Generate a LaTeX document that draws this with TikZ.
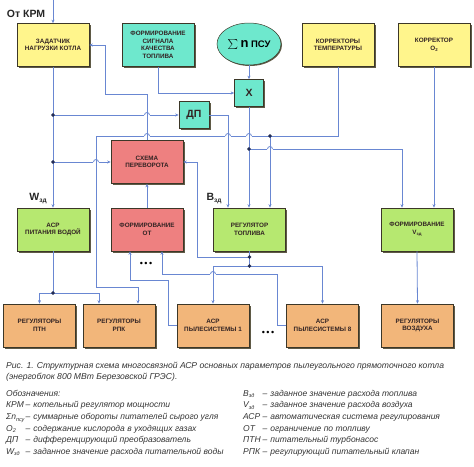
\documentclass[tikz,border=0pt]{standalone}
\usepackage{fontspec}
\setmainfont{Liberation Sans}
\usetikzlibrary{arrows.meta,shadows,shapes.geometric}

\definecolor{wirec}{RGB}{105,135,210}
\definecolor{edgec}{RGB}{60,55,40}
\definecolor{shadc}{RGB}{95,90,70}
\definecolor{dotc}{RGB}{35,45,85}
\definecolor{textc}{RGB}{50,35,35}
\definecolor{yelc}{RGB}{255,245,140}
\definecolor{cyac}{RGB}{110,232,205}
\definecolor{pinc}{RGB}{238,128,128}
\definecolor{grnc}{RGB}{182,232,112}
\definecolor{orac}{RGB}{242,182,122}

\tikzset{
  blk/.style={draw=edgec, line width=0.5pt, minimum width=72pt, minimum height=43pt,
    align=center, inner sep=1pt, text=textc,
    font=\fontsize{6.3}{7.6}\selectfont\bfseries,
    drop shadow={shadow xshift=1.6pt, shadow yshift=-1.6pt, fill=shadc, opacity=1}},
  yel/.style={blk, fill=yelc},
  cya/.style={blk, fill=cyac},
  pin/.style={blk, fill=pinc},
  grn/.style={blk, fill=grnc},
  ora/.style={blk, fill=orac},
  wire/.style={draw=wirec, line width=0.8pt},
  arr/.style={wire, -{Stealth[length=3.6pt, width=3pt]}},
  lab/.style={font=\fontsize{10.5}{10.5}\selectfont\bfseries, text=black!85, inner sep=0pt},
  leg/.style={anchor=north west, inner sep=0pt, align=left, text=black!80},
}

\newcommand\hop[2]{%
  \fill[white] (#1-2.7,#2-0.9) rectangle (#1+2.7,#2+0.9);
  \draw[wire] (#1,#2-2.5) -- (#1,#2+2.5);
  \draw[wire] (#1-2.5,#2) arc[start angle=180, end angle=0, radius=2.5pt];
}

\begin{document}
\begin{tikzpicture}[x=1pt, y=-1pt]
\useasboundingbox (0,0) rectangle (474,466);

\def\ra{45}
\def\rb{229.5}
\def\rc{325.5}

\node[yel] (zad) at (53, \ra) {ЗАДАТЧИК\\НАГРУЗКИ КОТЛА};
\node[cya] (sig) at (158, \ra) {ФОРМИРОВАНИЕ\\СИГНАЛА\\КАЧЕСТВА\\ТОПЛИВА};
\node[ellipse, draw=edgec, line width=0.5pt, fill=cyac, minimum width=64pt, minimum height=42pt,
  inner sep=0pt, drop shadow={shadow xshift=1pt, shadow yshift=-1pt, fill=shadc, opacity=1}]
  (psu) at (249, 44) {\fontsize{15}{15}\selectfont$\sum$\,{\bfseries\fontsize{13}{13}\selectfont n}\,{\bfseries\fontsize{9.5}{9.5}\selectfont ПСУ}};
\node[yel] (temp) at (338, \ra) {КОРРЕКТОРЫ\\ТЕМПЕРАТУРЫ};
\node[yel] (o2) at (434, \ra) {КОРРЕКТОР\\O\raisebox{-1pt}{\fontsize{4.3}{4.3}\selectfont 2}};

\node[cya, minimum width=29pt, minimum height=27pt, font=\fontsize{10.5}{10.5}\selectfont\bfseries] (mul) at (249, 93) {X};
\node[cya, minimum width=30pt, minimum height=27pt, font=\fontsize{10.5}{10.5}\selectfont\bfseries] (dp) at (194, 115) {ДП};
\node[pin] (flip) at (147, 162) {СХЕМА\\ПЕРЕВОРОТА};

\node[grn] (water) at (53, \rb) {АСР\\ПИТАНИЯ ВОДОЙ};
\node[pin] (ot) at (147, \rb) {ФОРМИРОВАНИЕ\\ОТ};
\node[grn] (fuel) at (249.5, \rb) {РЕГУЛЯТОР\\ТОПЛИВА};
\node[grn] (vair) at (417, \rb) {ФОРМИРОВАНИЕ\\V\raisebox{-1pt}{\fontsize{4.3}{4.3}\selectfont зд}};

\node[ora] (ptn) at (39.5, \rc) {РЕГУЛЯТОРЫ\\ПТН};
\node[ora] (rpk) at (119, \rc) {РЕГУЛЯТОРЫ\\РПК};
\node[ora] (mill1) at (213, \rc) {АСР\\ПЫЛЕСИСТЕМЫ 1};
\node[ora] (mill8) at (322.5, \rc) {АСР\\ПЫЛЕСИСТЕМЫ 8};
\node[ora] (air) at (417.5, \rc) {РЕГУЛЯТОРЫ\\ВОЗДУХА};

\node[lab] (krm) at (26, 14) {От КРМ};
\node[lab] (wzd) at (38, 199) {W\raisebox{-2pt}{\fontsize{6.5}{6.5}\selectfont зд}};
\node[lab] (bzd) at (214, 199) {B\raisebox{-2pt}{\fontsize{6.5}{6.5}\selectfont зд}};
\node[font=\fontsize{9}{9}\selectfont] (etca) at (146, 264) {•\,•\,•};
\node[font=\fontsize{9}{9}\selectfont] (etcb) at (268, 333) {•\,•\,•};

\coordinate (top) at (53, 0);
\coordinate (ja) at (53, 115);
\coordinate (jb) at (53, 162);
\coordinate (fb) at (105, 94);
\coordinate (tk) at (96, 136);
\coordinate (tj) at (270, 136);
\coordinate (mj) at (249, 149);
\coordinate (rk) at (138, 287);
\coordinate (fa) at (249.5, 257);
\coordinate (fc) at (249.5, 266);
\coordinate (fr) at (197, 162);
\coordinate (wj) at (53, 293);
\coordinate (ma) at (168, 280);
\coordinate (mb) at (277, 274);

\draw[arr] (top) -- (zad.north);
\draw[arr] (zad.south) -- (water.north);
\draw[arr] (ja) -- (dp.west);
\draw[arr] (jb) -- (flip.west);
\draw[arr] (flip.north) |- (fb) |- (zad.east);
\draw[arr] (sig.south) |- (mul.west);
\draw[arr] (psu.south) -- (mul.north);
\draw[arr] (dp.east) -| ([xshift=-21.5pt]fuel.north);
\draw[arr] (mul.south) -- (mul.south |- fuel.north);
\draw[arr] (temp.south) |- (tk) |- (rk) -- (rk |- rpk.north);
\draw[arr] (tj) -- (tj |- fuel.north);
\draw[arr] (mj) -| ([xshift=-15pt]vair.north);
\draw[arr] (o2.south) -- (o2.south |- vair.north);
\draw[arr] (ot.north) -- (flip.south);
\draw[wire] (fuel.south) -- (fc);
\draw[arr] (fa) -| (fr) -- (flip.east);
\draw[arr] (fc) -| (mill1.north);
\draw[arr] (fc) -| (mill8.north);
\draw[arr] (mill1.west) -| (ma) -| ([xshift=-17pt]ot.south);
\draw[arr] (mill8.west) -| (mb) -| ([xshift=15pt]ot.south);
\draw[wire] (water.south) -- (wj);
\draw[arr] (wj) -| (ptn.north);
\draw[arr] (wj) -| ([xshift=-20pt]rpk.north);
\draw[arr] (vair.south) -- (air.north);

\hop{147}{115}
\hop{147}{136}
\hop{96}{162}
\hop{228}{136}
\hop{249}{136}
\hop{270}{149}
\hop{213}{274}

\filldraw[dotc] (ja) circle (1.6pt);
\filldraw[dotc] (jb) circle (1.6pt);
\filldraw[dotc] (tj) circle (1.6pt);
\filldraw[dotc] (mj) circle (1.6pt);
\filldraw[dotc] (fa) circle (1.6pt);
\filldraw[dotc] (fc) circle (1.6pt);
\filldraw[dotc] (wj) circle (1.6pt);

\node[leg, font=\fontsize{8.6}{10.7}\selectfont\itshape] (cap) at (6, 362)
  {Рис. 1. Структурная схема многосвязной АСР основных параметров пылеугольного прямоточного котла\\
   (энергоблок 800 МВт Березовской ГРЭС).};
\node[leg, font=\fontsize{8.5}{11.6}\selectfont\itshape] (legl) at (6, 388)
  {\begin{tabular}{@{}p{19.5pt}@{}l@{\hspace{3pt}}l@{}}
   \multicolumn{3}{@{}l}{Обозначения:}\\
   КРМ & – & котельный регулятор мощности\\
   Σn\raisebox{-1.5pt}{\fontsize{5.5}{5.5}\selectfont псу} & – & суммарные обороты питателей сырого угля\\
   O\raisebox{-1.5pt}{\fontsize{5.5}{5.5}\selectfont 2} & – & содержание кислорода в уходящих газах\\
   ДП & – & дифференцирующий преобразователь\\
   W\raisebox{-1.5pt}{\fontsize{5.5}{5.5}\selectfont зд} & – & заданное значение расхода питательной воды
   \end{tabular}};
\node[leg, font=\fontsize{8.5}{11.6}\selectfont\itshape] (legr) at (243, 388)
  {\begin{tabular}{@{}p{19.5pt}@{}l@{\hspace{3pt}}l@{}}
   B\raisebox{-1.5pt}{\fontsize{5.5}{5.5}\selectfont зд} & – & заданное значение расхода топлива\\
   V\raisebox{-1.5pt}{\fontsize{5.5}{5.5}\selectfont зд} & – & заданное значение расхода воздуха\\
   АСР & – & автоматическая система регулирования\\
   ОТ & – & ограничение по топливу\\
   ПТН & – & питательный турбонасос\\
   РПК & – & регулирующий питательный клапан
   \end{tabular}};
\end{tikzpicture}
\end{document}
